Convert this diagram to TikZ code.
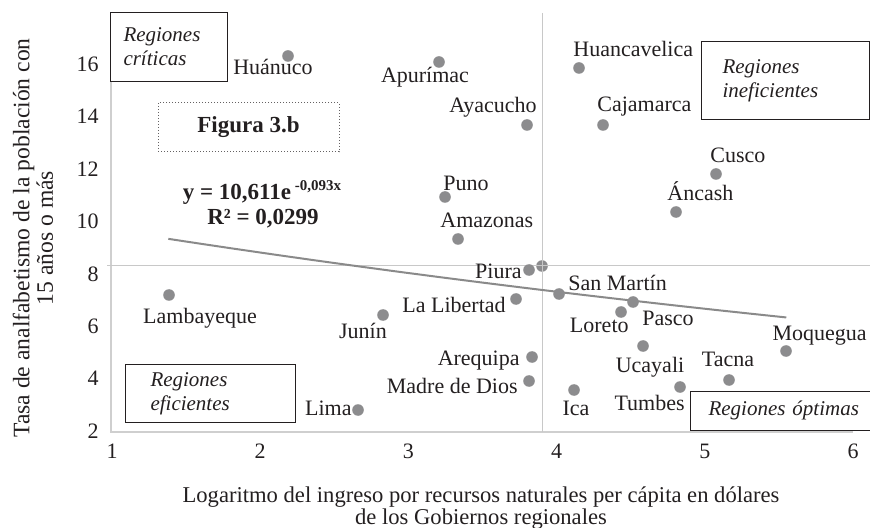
\documentclass[tikz,border=0pt]{standalone}
\usepackage{fontspec}
\setmainfont{Liberation Serif}
\definecolor{dotgray}{HTML}{8C8C8E}
\definecolor{txt}{HTML}{231F20}
\definecolor{axisgray}{HTML}{CFCFCF}
\definecolor{meangray}{HTML}{C8C8C8}
\definecolor{trendgray}{HTML}{8A8A8A}
\begin{document}
\begin{tikzpicture}[x=0.5pt,y=-0.5pt,
  dot/.style={circle,fill=dotgray,draw=none,inner sep=0pt,minimum size=5.8pt},
  lab/.style={font=\fontsize{11}{13}\selectfont,text=txt,inner sep=0pt},
  tick/.style={font=\fontsize{11}{13}\selectfont,text=txt,inner sep=0pt},
  axisline/.style={draw=axisgray,line width=0.8pt},
  meanline/.style={draw=meangray,line width=0.5pt},
  trendline/.style={draw=trendgray,line width=1pt},
  regbox/.style={draw=txt,fill=white,line width=0.5pt,font=\fontsize{10.5}{12}\selectfont\itshape,text=txt,align=left},
  eqtext/.style={font=\fontsize{11.5}{13}\selectfont\bfseries,text=txt,inner sep=0pt}
]
\useasboundingbox (0,0) rectangle (870,528);

% axes
\coordinate (axtop) at (111,13);
\coordinate (axorig) at (111,432);
\coordinate (axright) at (853,432);
\draw[axisline] (axtop) -- (axorig) -- (axright);

% mean point and crosshair
\node[dot] (dMean) at (542,266) {};
\coordinate (mvt) at (542,13);
\coordinate (mvb) at (542,432);
\coordinate (mhl) at (107,266);
\coordinate (mhr) at (870,266);
\draw[meanline] (mvt) -- (mvb);
\draw[meanline] (mhl) -- (mhr);

% trend line
\draw[trendline] plot[domain=1.38:5.55,samples=40] ({112+(\x-1)*148.2},{431-(10.611*exp(-0.093*\x)-2)*26.2});

% data points
\node[dot] (dHuanuco) at (288,56) {};
\node[dot] (dApurimac) at (439,62) {};
\node[dot] (dAyacucho) at (527,125) {};
\node[dot] (dHuancavelica) at (579,68) {};
\node[dot] (dCajamarca) at (603,125) {};
\node[dot] (dCusco) at (716,174) {};
\node[dot] (dPuno) at (445,197) {};
\node[dot] (dAncash) at (676,212) {};
\node[dot] (dAmazonas) at (458,239) {};
\node[dot] (dPiura) at (529,270) {};
\node[dot] (dSanMartin) at (559,294) {};
\node[dot] (dLaLibertad) at (516,299) {};
\node[dot] (dPasco) at (633,302) {};
\node[dot] (dLoreto) at (621,312) {};
\node[dot] (dJunin) at (383,315) {};
\node[dot] (dLambayeque) at (169,295) {};
\node[dot] (dMoquegua) at (786,351) {};
\node[dot] (dUcayali) at (643,346) {};
\node[dot] (dArequipa) at (532,357) {};
\node[dot] (dTacna) at (729,380) {};
\node[dot] (dMadre) at (529,381) {};
\node[dot] (dIca) at (574,390) {};
\node[dot] (dTumbes) at (680,387) {};
\node[dot] (dLima) at (358,410) {};

% labels
\node[lab,anchor=base] (lHuanuco) at (273,75) {Huánuco};
\node[lab,anchor=base] (lApurimac) at (425,83) {Apurímac};
\node[lab,anchor=base east] (lAyacucho) at (537,113) {Ayacucho};
\node[lab,anchor=base west] (lHuancavelica) at (573,57) {Huancavelica};
\node[lab,anchor=base west] (lCajamarca) at (597,112) {Cajamarca};
\node[lab,anchor=base west] (lCusco) at (710,163) {Cusco};
\node[lab,anchor=base west] (lAncash) at (667,201) {Áncash};
\node[lab,anchor=base west] (lPuno) at (443,191) {Puno};
\node[lab,anchor=base west] (lAmazonas) at (440,228) {Amazonas};
\node[lab,anchor=base east] (lPiura) at (522,279) {Piura};
\node[lab,anchor=base west] (lSanMartin) at (568,291) {San Martín};
\node[lab,anchor=base east] (lLaLibertad) at (506,313) {La Libertad};
\node[lab,anchor=base east] (lLoreto) at (629,333) {Loreto};
\node[lab,anchor=base west] (lPasco) at (642,326) {Pasco};
\node[lab,anchor=base east] (lMoquegua) at (867,341) {Moquegua};
\node[lab,anchor=base] (lLambayeque) at (200,323) {Lambayeque};
\node[lab,anchor=base] (lJunin) at (363,338) {Junín};
\node[lab,anchor=base east] (lArequipa) at (520,365) {Arequipa};
\node[lab,anchor=base east] (lMadre) at (518,393) {Madre de Dios};
\node[lab,anchor=base] (lUcayali) at (650,372) {Ucayali};
\node[lab,anchor=base] (lTacna) at (728,366) {Tacna};
\node[lab,anchor=base] (lIca) at (576,415) {Ica};
\node[lab,anchor=base east] (lTumbes) at (685,410) {Tumbes};
\node[lab,anchor=base east] (lLima) at (352,415) {Lima};

% equation
\node[eqtext,anchor=base] (eq1) at (262,200) {y = 10,611e\,\raisebox{0.42em}{\fontsize{7.5}{8}\selectfont -0,093x}};
\node[eqtext,anchor=base] (eq2) at (263,225) {R² = 0,0299};

% figure title
\node[draw=txt!70,densely dotted,line width=0.5pt,minimum width=90.5pt,minimum height=24.5pt,
      font=\fontsize{11.5}{13}\selectfont\bfseries,text=txt] (fig) at (248.5,127.5) {Figura 3.b};

% region boxes
\node[regbox,anchor=north west,minimum height=34.5pt,inner xsep=6.5pt,text width=45.5pt] (bCrit) at (110,12) {Regiones\\críticas};
\node[regbox,anchor=north west,minimum height=39pt,inner xsep=10.5pt,text width=63pt] (bInef) at (701,41) {Regiones\\ineficientes};
\node[regbox,anchor=north west,minimum height=29pt,inner xsep=12.5pt,text width=60pt] (bEfic) at (125,364) {Regiones\\eficientes};
\node[regbox,draw=none,anchor=north west,minimum height=19pt,inner xsep=9pt,text width=77pt] (bOpt) at (690,391) {Regiones óptimas};
\draw[draw=txt,line width=0.5pt] (bOpt.north east) -- (bOpt.north west) -- (bOpt.south west) -- (bOpt.south east);

% ticks
\foreach \i in {1,...,6} \node[tick] (xt\i) at ({112+(\i-1)*148.2},451) {\i};
\foreach \v in {2,4,...,16} \node[tick,anchor=east] (yt\v) at (99,{431-(\v-2)*26.2}) {\v};

% axis titles
\node[font=\fontsize{11.8}{10}\selectfont,text=txt,align=center,rotate=90,inner sep=0pt] (ytitle) at (33,238)
  {Tasa de analfabetismo de la población con\\15 años o más};
\node[font=\fontsize{11.3}{10}\selectfont,text=txt,align=center,inner sep=0pt] (xtitle) at (481,508)
  {Logaritmo del ingreso por recursos naturales per cápita en dólares\\de los Gobiernos regionales};
\end{tikzpicture}
\end{document}
